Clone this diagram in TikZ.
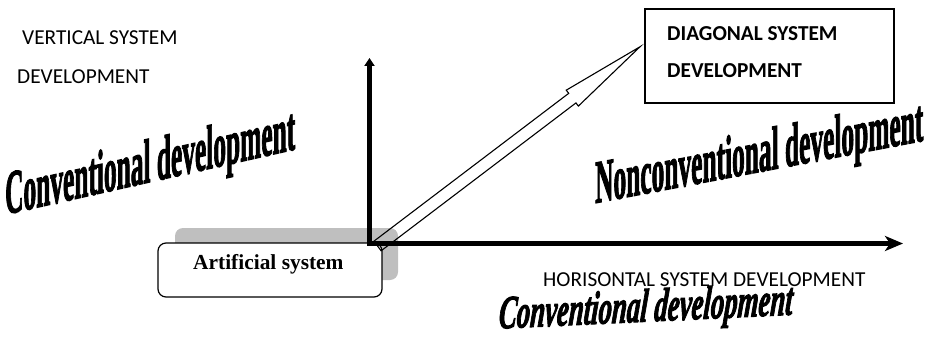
\documentclass[tikz,border=0pt]{standalone}
\usepackage{fontspec}
\setmainfont{Liberation Serif}
\newfontfamily\calfont{Carlito}
\newfontfamily\artfont{Liberation Serif}[UprightFont={* Bold}, ItalicFont={* Bold Italic}, UprightFeatures={FakeBold=2.5}, ItalicFeatures={FakeBold=2.5}]
\usetikzlibrary{arrows.meta}
\definecolor{shadowgray}{HTML}{BFBFBF}
\begin{document}
\begin{tikzpicture}[x=1pt,y=1pt,
  axisline/.style={line width=4.5pt, line cap=rect},
  hollowarrow/.style={line width=1.1pt, line join=miter},
  caplabel/.style={font=\calfont\fontsize{21.3}{22}\selectfont, inner sep=0pt, anchor=base west},
  capbold/.style={font=\calfont\bfseries\fontsize{21.3}{22}\selectfont, inner sep=0pt, anchor=base west},
  wordart/.style={font=\artfont\fontsize{25.4}{26}\selectfont, inner sep=0pt, anchor=base west, transform shape},
  wordartit/.style={font=\artfont\itshape\fontsize{26.8}{27}\selectfont, inner sep=0pt, anchor=base west, transform shape},
  artbox/.style={draw, line width=1.2pt, rounded corners=8pt, fill=white},
  diagbox/.style={draw, line width=1.2pt}
]
\useasboundingbox (0,0) rectangle (931,338);

% artificial system box with shadow
\fill[shadowgray, rounded corners=8pt] (175,58) rectangle (398,110);
\draw[artbox] (158,41) rectangle (382,95);
\node[font=\bfseries\fontsize{21.4}{22}\selectfont, inner sep=0pt, anchor=base west] (art) at (193,69) {Artificial system};

% diagonal box
\draw[diagbox] (645,235) rectangle (894,329);
\node[capbold] (diag1) at (667,297) {DIAGONAL SYSTEM};
\node[capbold] (diag2) at (667,260.7) {DEVELOPMENT};

% labels
\node[caplabel] (vert1) at (22,293) {VERTICAL SYSTEM};
\node[caplabel] (vert2) at (17,254.7) {DEVELOPMENT};
\node[caplabel] (hor) at (543,51.3) {HORISONTAL SYSTEM DEVELOPMENT};

% axes
\coordinate (O) at (369.5,94.5);
\coordinate (vtip) at (369.5,280);
\coordinate (htip) at (903,94.5);
\draw[axisline, -{Triangle[width=10pt,length=8pt]}] (O) -- (vtip);
\draw[axisline, -{Stealth[width=15pt,length=18pt,inset=5pt]}] (O) -- (htip);

% diagonal hollow arrow
\coordinate (dtail) at (377.5,92);
\coordinate (dtip) at (640,291.3);
\begin{scope}[shift={(dtail)}, rotate=37.2]
  \draw[hollowarrow] (0,-6) -- (244.6,-6) -- (244.6,-10) -- (329.6,0) -- (244.6,10) -- (244.6,6) -- (0,6) -- cycle;
\end{scope}

% word art texts
\begin{scope}[shift={(5,123.5)}, yslant=0.225, yscale=2.45]
  \node[wordart] (conv1) at (0,0) {Conventional development};
\end{scope}
\begin{scope}[shift={(595,135)}, yslant=0.19, yscale=2.4]
  \node[wordart] (nonconv) at (0,0) {Nonconventional development};
\end{scope}
\begin{scope}[shift={(498,9.5)}, rotate=2.7, xslant=0.12, yscale=1.75]
  \node[wordartit] (conv2) at (0,0) {Conventional development};
\end{scope}
\end{tikzpicture}
\end{document}
